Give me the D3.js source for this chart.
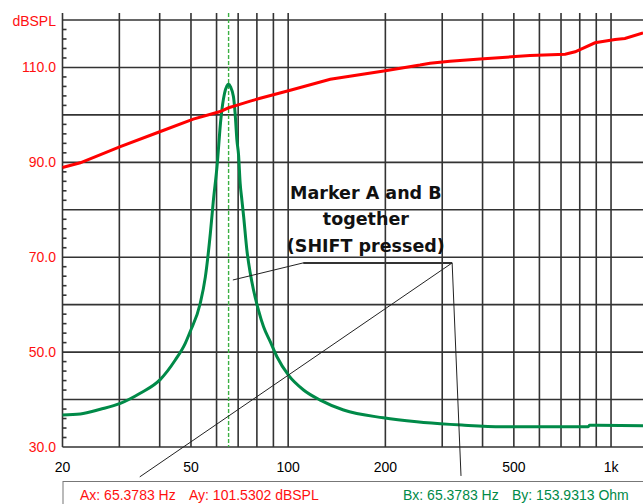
<!DOCTYPE html>
<html>
<head>
<meta charset="utf-8">
<script src="https://cdn.jsdelivr.net/npm/d3@7"></script>
<style>
  body { margin: 0; background: #fff; }
  svg { display: block; }
</style>
</head>
<body>
<div id="chart"></div>
<script>
// SPL curve (red)
const splFreq = [20, 22.7, 30.2, 40.2, 50.8, 61.6, 65.4, 70, 76.3, 81.9, 101.5, 135, 200, 256, 275, 317, 393, 561, 721, 774, 892, 1029, 1104, 1256];
const splDb = [88.9, 89.9, 93.3, 96.5, 99.1, 100.7, 101.5, 102.1, 102.9, 103.5, 105.2, 107.5, 109.3, 110.5, 110.9, 111.3, 111.8, 112.5, 112.8, 113.3, 115.2, 115.9, 116.1, 117.3];

// impedance curve (green), ohms
const impFreq = [20, 22.7, 26.2, 30.2, 34.8, 40.2, 44.7, 48, 49.7, 53.4, 55.4, 57.4, 58.6, 60.2, 61.9, 63.5, 64.6, 65.4, 66.3, 67.7, 68.5, 69.4, 70.2, 71.0, 71.9, 72.8, 74.5, 76.3, 78.1, 80.9, 83.9, 88, 92.3, 100.2, 111.6, 125.7, 148.4, 197, 250, 317, 345, 459, 850, 858, 1256];
const impOhm = [13.6, 14.0, 16.0, 18.5, 22.8, 28.7, 36.9, 44.0, 48.9, 60.9, 72.2, 90.6, 104, 119, 139.4, 150.0, 153.2, 153.9, 152.8, 148.6, 141.6, 130, 124, 112, 104.7, 97.7, 83.5, 73.8, 66.6, 58.1, 51.0, 44.7, 38.3, 30.5, 24.2, 19.9, 15.7, 12.4, 10.7, 9.6, 9.3, 8.6, 8.6, 9.2, 9.0];

// axes
const yLabels = [110, 90, 70, 50, 30];
const yGrid = [120, 110, 100, 90, 80, 70, 60, 50, 40, 30];
const xGrid = [30, 40, 50, 60, 70, 80, 90, 100, 200, 300, 400, 500, 600, 700, 800, 900, 1000];
const xLabels = [20, 50, 100, 200, 500, 1000];
const xLabelText = ["20", "50", "100", "200", "500", "1k"];

// marker readouts
const markerFreq = 65.3783;
const readouts = [
  { text: "Ax: 65.3783 Hz", x: 80, color: "#ff1010" },
  { text: "Ay: 101.5302 dBSPL", x: 189, color: "#ff1010" },
  { text: "Bx: 65.3783 Hz", x: 403, color: "#008a48" },
  { text: "By: 153.9313 Ohm", x: 512, color: "#008a48" }
];
const noteLines = ["Marker A and B", "together", "(SHIFT pressed)"];

const w = 643;
const h = 504;

const x = d3.scaleLog().domain([20, 1256]).range([62.5, 643]);
const y = d3.scaleLinear().domain([30, 120]).range([447, 20]);
const yOhm = d3.scaleLinear().domain([0, 180]).range([y(30), y(119.4)]);
const yTop = y(121.5);

const svg = d3.select("#chart").append("svg")
  .attr("width", w)
  .attr("height", h)
  .style("font-family", "'Liberation Sans', Arial, sans-serif");

const gridColor = "#333";

// horizontal grid
svg.append("g").selectAll("line")
  .data(yGrid)
  .enter().append("line")
  .attr("x1", x(20)).attr("x2", w)
  .attr("y1", d => y(d)).attr("y2", d => y(d))
  .attr("stroke", gridColor).attr("stroke-width", 1.6);

// vertical grid + left axis
svg.append("g").selectAll("line")
  .data([20, ...xGrid])
  .enter().append("line")
  .attr("x1", d => x(d)).attr("x2", d => x(d))
  .attr("y1", yTop).attr("y2", y(30))
  .attr("stroke", gridColor).attr("stroke-width", 1.6);

// minor ticks on left axis, every 2 dB
const minor = d3.range(32, 120, 2).filter(d => d % 10 !== 0);
svg.append("g").selectAll("line")
  .data(minor)
  .enter().append("line")
  .attr("x1", x(20)).attr("x2", x(20) + 4)
  .attr("y1", d => y(d)).attr("y2", d => y(d))
  .attr("stroke", gridColor).attr("stroke-width", 1.6);

// y labels
svg.append("g").selectAll("text")
  .data(yLabels)
  .enter().append("text")
  .attr("x", 56)
  .attr("y", d => y(d))
  .attr("dy", "0.36em")
  .attr("text-anchor", "end")
  .attr("fill", "#ff1010")
  .style("font-size", "14px")
  .text(d => d.toFixed(1));

svg.append("text")
  .attr("x", 56)
  .attr("y", y(120) + 1)
  .attr("dy", "0.36em")
  .attr("text-anchor", "end")
  .attr("fill", "#ff1010")
  .style("font-size", "14px")
  .text("dBSPL");

// x labels
svg.append("g").selectAll("text")
  .data(xLabels)
  .enter().append("text")
  .attr("x", d => x(d))
  .attr("y", 472)
  .attr("text-anchor", "middle")
  .attr("fill", "#000")
  .style("font-size", "14px")
  .text((d, i) => xLabelText[i]);

// marker line
svg.append("line")
  .attr("x1", x(markerFreq)).attr("x2", x(markerFreq))
  .attr("y1", yTop).attr("y2", y(30))
  .attr("stroke", "#3cb043")
  .attr("stroke-width", 1.4)
  .attr("stroke-dasharray", "4,2");

// curves
const splLine = d3.line()
  .x(d => x(d[0]))
  .y(d => y(d[1]));

const impLine = d3.line()
  .x(d => x(d[0]))
  .y(d => yOhm(d[1]))
  .curve(d3.curveMonotoneX);

svg.append("path")
  .datum(impFreq.map((f, i) => [f, impOhm[i]]))
  .attr("d", impLine)
  .attr("fill", "none")
  .attr("stroke", "#008a48")
  .attr("stroke-width", 3);

svg.append("path")
  .datum(splFreq.map((f, i) => [f, splDb[i]]))
  .attr("d", splLine)
  .attr("fill", "none")
  .attr("stroke", "#ff0000")
  .attr("stroke-width", 3);

// annotation
const noteX = 174;
const noteY = [82.2, 76.8, 71.2];
svg.append("g").selectAll("text")
  .data(noteLines)
  .enter().append("text")
  .attr("x", x(noteX))
  .attr("y", (d, i) => y(noteY[i]))
  .attr("text-anchor", "middle")
  .attr("fill", "#111")
  .style("font-family", "'DejaVu Sans', Verdana, sans-serif")
  .style("font-weight", "bold")
  .style("font-size", "17.5px")
  .text(d => d);

// callout lines (freq, dB)
const elbowL = [111.3, 68.8];
const elbowR = [322, 68.8];
svg.append("line")
  .attr("x1", x(elbowL[0])).attr("x2", x(elbowR[0]))
  .attr("y1", y(elbowL[1])).attr("y2", y(elbowR[1]))
  .attr("stroke", "#333").attr("stroke-width", 2);

const callouts = [
  [elbowL, [67.4, 65.2]],
  [elbowR, [34.7, 23.7]],
  [elbowR, [343, 23.9]]
];
svg.append("g").selectAll("line")
  .data(callouts)
  .enter().append("line")
  .attr("x1", d => x(d[0][0])).attr("y1", d => y(d[0][1]))
  .attr("x2", d => x(d[1][0])).attr("y2", d => y(d[1][1]))
  .attr("stroke", "#222").attr("stroke-width", 1);

// readout box
svg.append("rect")
  .attr("x", x(20) + 0.5)
  .attr("y", 481.5)
  .attr("width", 700)
  .attr("height", 40)
  .attr("fill", "#fff")
  .attr("stroke", "#777");

svg.append("g").selectAll("text")
  .data(readouts)
  .enter().append("text")
  .attr("x", d => d.x)
  .attr("y", 500)
  .attr("fill", d => d.color)
  .style("font-size", "14px")
  .text(d => d.text);
</script>
</body>
</html>
